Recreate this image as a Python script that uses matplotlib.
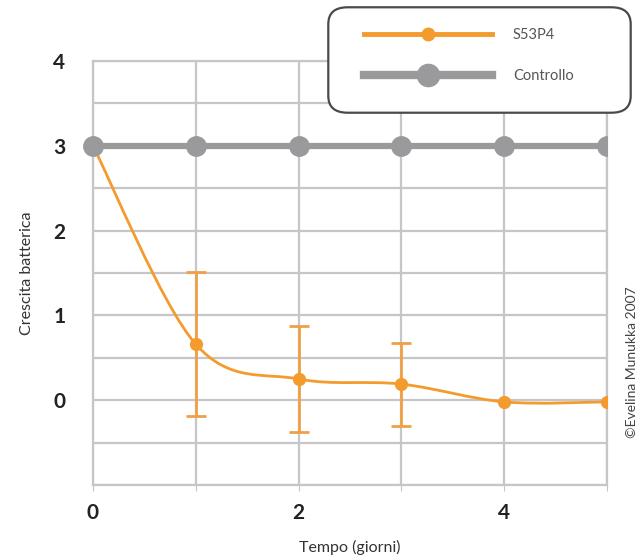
import numpy as np
import matplotlib
matplotlib.use("Agg")
import matplotlib.pyplot as plt
from matplotlib.path import Path
from matplotlib.patches import PathPatch, FancyBboxPatch, Rectangle
from matplotlib.lines import Line2D

# ---- data ----
days = [0, 1, 2, 3, 4, 5]
s53p4 = [3.0, 0.66, 0.25, 0.19, -0.02, -0.02]
s53p4_err = [0.0, 0.85, 0.63, 0.49, 0.0, 0.0]
controllo = [3.0, 3.0, 3.0, 3.0, 3.0, 3.0]
xticks = [0, 2, 4]
yticks = [0, 1, 2, 3, 4]
series_names = ["S53P4", "Controllo"]

ORANGE = "#F39B2D"
GRAY = "#9A9A9C"
GRID = "#C6C6CA"

plt.rcParams['font.family'] = ['Lato', 'DejaVu Sans']

fig = plt.figure(figsize=(6.42, 5.60), dpi=100)
ax = fig.add_axes([93/642, 1-485/560, (607-93)/642, (485-61)/560])

ax.set_xlim(0, 5)
ax.set_ylim(-1, 4)
ax.set_xticks(np.arange(0, 6, 1))
ax.set_yticks(np.arange(-1, 4.01, 0.5))
ax.grid(True, color=GRID, linewidth=1.6, zorder=0)
ax.set_axisbelow(True)
for s in ax.spines.values():
    s.set_color(GRID)
    s.set_linewidth(1.6)

ax.set_xticklabels([str(v) if v in xticks else "" for v in range(0, 6)])
ax.set_yticklabels([("%d" % v) if (abs(v - round(v)) < 1e-9 and round(v) in yticks) else ""
                    for v in np.arange(-1, 4.01, 0.5)])
ax.tick_params(axis='x', length=4, color=GRID, pad=9, labelsize=15, labelcolor="#222222")
ax.tick_params(axis='y', length=0, pad=20, labelsize=15, labelcolor="#222222")
for lab in ax.get_xticklabels() + ax.get_yticklabels():
    lab.set_fontweight('bold')

ax.set_xlabel("Tempo (giorni)", fontsize=11.5, color="#333333", labelpad=12)
ax.set_ylabel("Crescita batterica", fontsize=11.5, color="#333333", labelpad=14)

clip_rect = Rectangle((-0.06, -0.06), 1.06, 1.12, transform=ax.transAxes, visible=False)
ax.add_patch(clip_rect)

# smoothed S53P4 line (cubic Bezier through the points)
pts = np.column_stack([days, s53p4])
verts = [tuple(pts[0])]
codes = [Path.MOVETO]
n = len(pts)
for i in range(n - 1):
    p0 = pts[i - 1] if i > 0 else pts[i]
    p1 = pts[i]
    p2 = pts[i + 1]
    p3 = pts[i + 2] if i + 2 < n else pts[i + 1]
    c1 = p1 + (p2 - p0) / 6.0
    c2 = p2 - (p3 - p1) / 6.0
    verts += [tuple(c1), tuple(c2), tuple(p2)]
    codes += [Path.CURVE4] * 3
curve = PathPatch(Path(verts, codes), facecolor='none', edgecolor=ORANGE, lw=2.0,
                  transform=ax.transData, zorder=3)
ax.add_patch(curve)

# error bars
idx = [i for i, e in enumerate(s53p4_err) if e > 0]
ax.errorbar([days[i] for i in idx], [s53p4[i] for i in idx],
            yerr=[s53p4_err[i] for i in idx], fmt='none', ecolor="#EFA046",
            elinewidth=2.0, capsize=7, capthick=2.0, zorder=3)

om, = ax.plot(days, s53p4, linestyle='none', marker='o', ms=8.5, mfc=ORANGE,
              mec=ORANGE, zorder=4)
om.set_clip_path(clip_rect)

# control line (drawn over the orange start point)
cl, = ax.plot(days, controllo, color=GRAY, lw=4.5, marker='o', ms=14,
              mfc=GRAY, mec=GRAY, zorder=5)
cl.set_clip_path(clip_rect)

# legend box
box = FancyBboxPatch((336/642, 1-106/560), (623-336)/642, (106-14)/560,
                     boxstyle="round,pad=0.012,rounding_size=0.03",
                     transform=fig.transFigure, facecolor='white',
                     edgecolor="#4A4A4A", linewidth=1.6, zorder=5)
fig.add_artist(box)

h1 = Line2D([], [], color=ORANGE, lw=3.5, marker='o', ms=9, mfc=ORANGE, mec=ORANGE)
h2 = Line2D([], [], color=GRAY, lw=6, marker='o', ms=16, mfc=GRAY, mec=GRAY)
leg = fig.legend([h1, h2], series_names, loc='upper left',
                 bbox_to_anchor=(348/642, 1-12/560), frameon=False,
                 fontsize=10.5, handlelength=8.8, handletextpad=1.4,
                 labelspacing=1.85, borderpad=0.6, labelcolor="#555555")
leg.set_zorder(6)

fig.text(632/642, 1-362/560, "©Evelina Munukka 2007", rotation=90, ha='center',
         va='center', fontsize=10, color="#444444")

fig.savefig("out.png", dpi=100)
